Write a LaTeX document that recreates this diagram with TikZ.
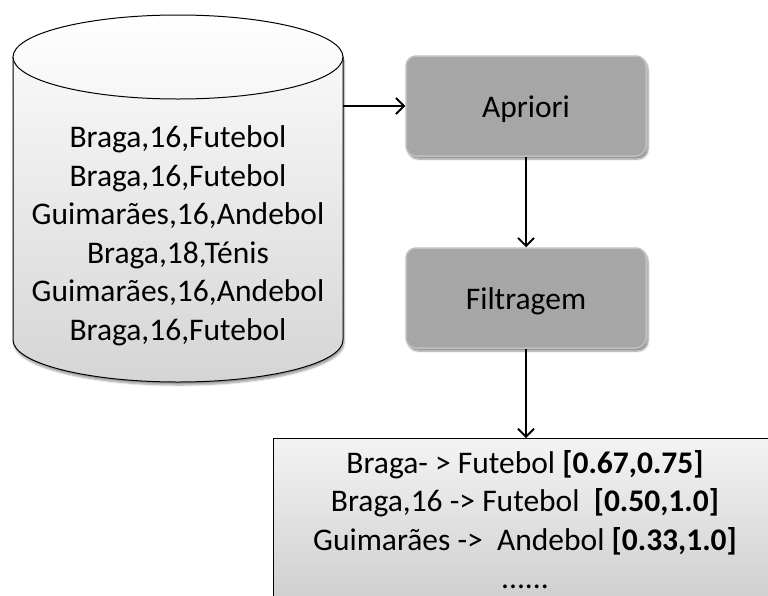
\documentclass[tikz,border=0pt]{standalone}
\usepackage{fontspec}
\setmainfont{Carlito}
\usetikzlibrary{arrows.meta,shadows.blur}
\definecolor{procfill}{RGB}{166,166,166}
\definecolor{procline}{RGB}{192,192,192}
\tikzset{
  arr/.style={line width=1.8pt, -{Straight Barb[length=8pt,width=16pt,line width=1.8pt]}},
  proc/.style={rounded corners=10pt, fill=procfill, draw=procline, line width=1.5pt,
    minimum width=240pt, minimum height=100pt, text depth=0pt, text height=22pt,
    blur shadow={shadow xshift=2pt, shadow yshift=-3pt, shadow blur steps=6, shadow opacity=45}},
  resbox/.style={draw=black, line width=1pt, top color=gray!9, bottom color=gray!38,
    minimum width=504pt, minimum height=162pt, align=center, anchor=north},
}
\begin{document}
\begin{tikzpicture}[x=1pt,y=-1pt,font=\fontsize{31.5}{38.5}\selectfont]
\useasboundingbox (0,0) rectangle (768,595);
\clip (0,0) rectangle (768,595);
% database cylinder
\path[blur shadow={shadow xshift=1pt, shadow yshift=-3pt, shadow blur steps=6, shadow opacity=40}, fill=white]
  (13,57) -- (13,340) arc[start angle=180, end angle=0, x radius=165, y radius=42] -- (343,57) -- cycle;
\draw[line width=1pt, top color=gray!5, bottom color=gray!33]
  (13,57) -- (13,340) arc[start angle=180, end angle=0, x radius=165, y radius=42] -- (343,57) -- cycle;
\draw[line width=1pt, top color=white, bottom color=gray!7] (178,57) ellipse[x radius=165, y radius=42];
\node[align=center] (db) at (178,236) {Braga,16,Futebol\\Braga,16,Futebol\\Guimarães,16,Andebol\\Braga,18,Ténis\\Guimarães,16,Andebol\\Braga,16,Futebol};
\coordinate (dbout) at (343,106);
% processing steps
\node[proc] (apr) at (526,106) {Apriori};
\node[proc] (filt) at (526,298) {Filtragem};
% resulting rules
\node[resbox] (res) at (525,438) {Braga- > Futebol \textbf{[0.67,0.75]}\\Braga,16 -> Futebol\ \ \textbf{[0.50,1.0]}\\Guimarães ->\ \ Andebol \textbf{[0.33,1.0]}\\......};
% connectors
\draw[arr] (dbout) -- (apr.west);
\draw[arr] (apr.south) -- (filt.north);
\draw[arr] (filt.south) -- (filt.south |- res.north);
\end{tikzpicture}
\end{document}
